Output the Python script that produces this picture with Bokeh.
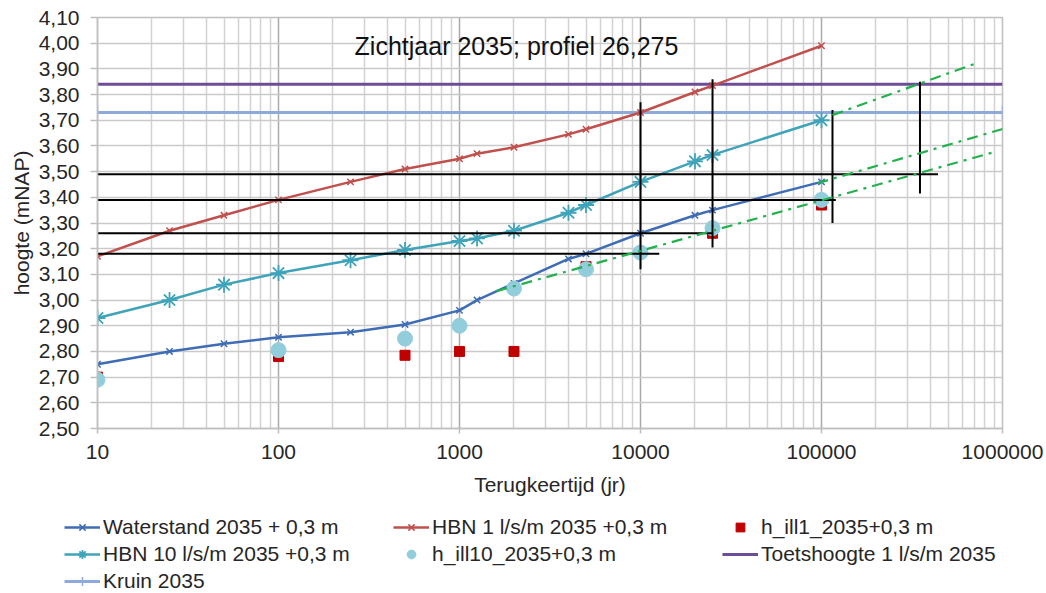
import numpy as np
from bokeh.plotting import figure
from bokeh.models import (FixedTicker, CustomJSTickFormatter, Legend, LegendItem,
                          Label, Range1d)
from bokeh.embed import file_html
from bokeh.resources import INLINE

# ---------------- data ----------------
T = [10, 25, 50, 100, 250, 500, 1000, 1250, 2000, 4000, 5000, 10000, 20000, 25000, 100000]
waterstand = [2.75, 2.80, 2.83, 2.855, 2.875, 2.905, 2.96, 3.00, 3.065, 3.16, 3.18, 3.26, 3.33, 3.35, 3.46]
hbn1 = [3.17, 3.27, 3.33, 3.39, 3.46, 3.51, 3.55, 3.57, 3.595, 3.645, 3.665, 3.73, 3.81, 3.835, 3.99]
hbn10 = [2.93, 3.00, 3.06, 3.105, 3.155, 3.195, 3.23, 3.24, 3.27, 3.34, 3.37, 3.46, 3.54, 3.565, 3.70]

T_ill1 = [10, 100, 500, 1000, 2000, 5000, 25000, 100000]
h_ill1 = [2.70, 2.78, 2.785, 2.80, 2.80, 3.13, 3.26, 3.37]
T_ill10 = [10, 100, 500, 1000, 2000, 5000, 10000, 25000, 100000]
h_ill10 = [2.69, 2.805, 2.85, 2.90, 3.045, 3.12, 3.185, 3.28, 3.39]

toets_x = [10, 1000000]
toets_y = [3.84, 3.84]
kruin_x = [10, 1000000]
kruin_y = [3.73, 3.73]

# black reference lines
h_y = [3.49, 3.39, 3.26, 3.18]
h_x0 = [10, 10, 10, 10]
h_x1 = [440000, 120000, 25000, 12700]
v_x = [10000, 25000, 115000, 350000]
v_y0 = [3.12, 3.205, 3.30, 3.415]
v_y1 = [3.77, 3.86, 3.74, 3.85]

# green extrapolation lines
g_x0 = [1600, 95000, 115000]
g_y0 = [3.035, 3.455, 3.72]
g_x1 = [890000, 1070000, 736000]
g_y1 = [3.575, 3.672, 3.925]

x_ticks = [10, 100, 1000, 10000, 100000, 1000000]
y_ticks = [round(2.5 + 0.1 * i, 2) for i in range(17)]

legend_labels = ["Waterstand 2035 + 0,3 m", "HBN 1 l/s/m 2035 +0,3 m", "h_ill1_2035+0,3 m",
                 "HBN 10 l/s/m 2035 +0,3 m", "h_ill10_2035+0,3 m",
                 "Toetshoogte 1 l/s/m 2035", "Kruin 2035"]

FONT = "Liberation Sans"
TXT = "#262626"
FS = "21px"

C_WS = "#3E6DB5"
C_H1 = "#C0504D"
C_H10 = "#3FA3BA"
C_ILL1 = "#C00000"
C_ILL10 = "#92CDDC"
C_TOETS = "#6E4C98"
C_KRUIN = "#8EAADB"
C_GREEN = "#22B14C"


def draw_series(fig):
    """Draw every series on a figure; returns renderers grouped per legend entry."""
    toets = [fig.line(toets_x, toets_y, line_color=C_TOETS, line_width=3)]
    kruin = [fig.line(kruin_x, kruin_y, line_color=C_KRUIN, line_width=3),
             fig.scatter(kruin_x, kruin_y, marker="cross", size=14, line_color=C_KRUIN,
                         line_width=1.5)]
    ws = [fig.line(T, waterstand, line_color=C_WS, line_width=2.5),
          fig.scatter(T, waterstand, marker="x", size=9, line_color=C_WS, line_width=1.5)]
    h1 = [fig.line(T, hbn1, line_color=C_H1, line_width=2.5),
          fig.scatter(T, hbn1, marker="x", size=9, line_color=C_H1, line_width=1.5)]
    h10 = [fig.line(T, hbn10, line_color=C_H10, line_width=2.5),
           fig.scatter(T, hbn10, marker="asterisk", size=16, line_color=C_H10, line_width=1.8)]
    ill1 = [fig.scatter(T_ill1, h_ill1, marker="square", size=10, fill_color=C_ILL1,
                        line_color=C_ILL1)]
    ill10 = [fig.scatter(T_ill10, h_ill10, marker="circle", size=15, fill_color=C_ILL10,
                         line_color=C_ILL10)]
    return [ws, h1, ill1, h10, ill10, toets, kruin]


p = figure(width=1046, height=500, x_axis_type="log",
           x_range=Range1d(10, 1000000), y_range=Range1d(2.5, 4.1),
           output_backend="svg", toolbar_location=None, title=None,
           min_border_left=97, min_border_right=44, min_border_top=17,
           min_border_bottom=72)
p.background_fill_color = "white"
p.border_fill_color = "white"
p.outline_line_color = "#BFBFBF"
p.outline_line_width = 1.5

minor = [m * 10 ** e for e in range(1, 6) for m in range(2, 10)]
xa = p.xaxis[0]
xa.ticker = FixedTicker(ticks=x_ticks, minor_ticks=minor)
xa.formatter = CustomJSTickFormatter(code="return tick.toFixed(0);")
xa.axis_label = "Terugkeertijd (jr)"
xa.major_tick_out = 5
xa.major_tick_in = 0
xa.minor_tick_out = 0
xa.minor_tick_in = 0
xa.major_label_standoff = 11
xa.axis_label_standoff = 11

ya = p.yaxis[0]
ya.ticker = FixedTicker(ticks=y_ticks)
ya.formatter = CustomJSTickFormatter(code="return tick.toFixed(2).replace('.', ',');")
ya.axis_label = "hoogte (mNAP)"
ya.major_tick_out = 7
ya.major_tick_in = 0
ya.minor_tick_out = 0
ya.minor_tick_in = 0
ya.major_label_standoff = 11
ya.axis_label_standoff = 3

for ax in (xa, ya):
    ax.axis_line_color = "#BFBFBF"
    ax.axis_line_width = 1.5
    ax.major_tick_line_color = "#BFBFBF"
    ax.major_tick_line_width = 1.5
    ax.major_label_text_font = FONT
    ax.major_label_text_font_size = FS
    ax.major_label_text_color = TXT
    ax.axis_label_text_font = FONT
    ax.axis_label_text_font_size = FS
    ax.axis_label_text_font_style = "normal"
    ax.axis_label_text_color = TXT

p.xgrid.grid_line_color = "#AAAAAA"
p.xgrid.grid_line_width = 1.5
p.xgrid.minor_grid_line_color = "#D2D2D2"
p.xgrid.minor_grid_line_width = 1.5
p.ygrid.grid_line_color = "#CACACA"
p.ygrid.grid_line_width = 1.5

draw_series(p)

# black lines
p.segment(x0=h_x0, y0=h_y, x1=h_x1, y1=h_y, line_color="black", line_width=2)
p.segment(x0=v_x, y0=v_y0, x1=v_x, y1=v_y1, line_color="black", line_width=2)

# green dash-dot extrapolations
p.segment(x0=g_x0, y0=g_y0, x1=g_x1, y1=g_y1, line_color=C_GREEN, line_width=2.2,
          line_dash="11 6 3 6")

p.add_layout(Label(x=419, y=383, x_units="screen", y_units="screen",
                   text="Zichtjaar 2035; profiel 26,275", text_font=FONT,
                   text_font_size="25px", text_color="#111111",
                   text_align="center", text_baseline="middle"))

# ---------------- legend strip (same series, drawn outside its visible range) ----------------
q = figure(width=1046, height=93, output_backend="svg", toolbar_location=None,
           title=None, x_axis_location=None, y_axis_location=None,
           x_range=Range1d(-2, -1), y_range=Range1d(-2, -1),
           min_border=0, min_border_left=0, min_border_right=0,
           min_border_top=0, min_border_bottom=0, outline_line_color=None)
q.xgrid.visible = False
q.ygrid.visible = False
q.background_fill_color = "white"
q.border_fill_color = "white"

groups = draw_series(q)
items = [LegendItem(label=lab, renderers=g) for lab, g in zip(legend_labels, groups)]
legend = Legend(items=items, location=(64, 0), orientation="horizontal", ncols=3,
                padding=0, margin=0, spacing=3, glyph_width=36, glyph_height=22,
                label_height=24, label_width=287, label_standoff=3,
                label_text_font=FONT, label_text_font_size=FS,
                label_text_color=TXT, background_fill_alpha=0, border_line_alpha=0)
q.add_layout(legend, "center")

open("out.html", "w").write(file_html([p, q], INLINE))
